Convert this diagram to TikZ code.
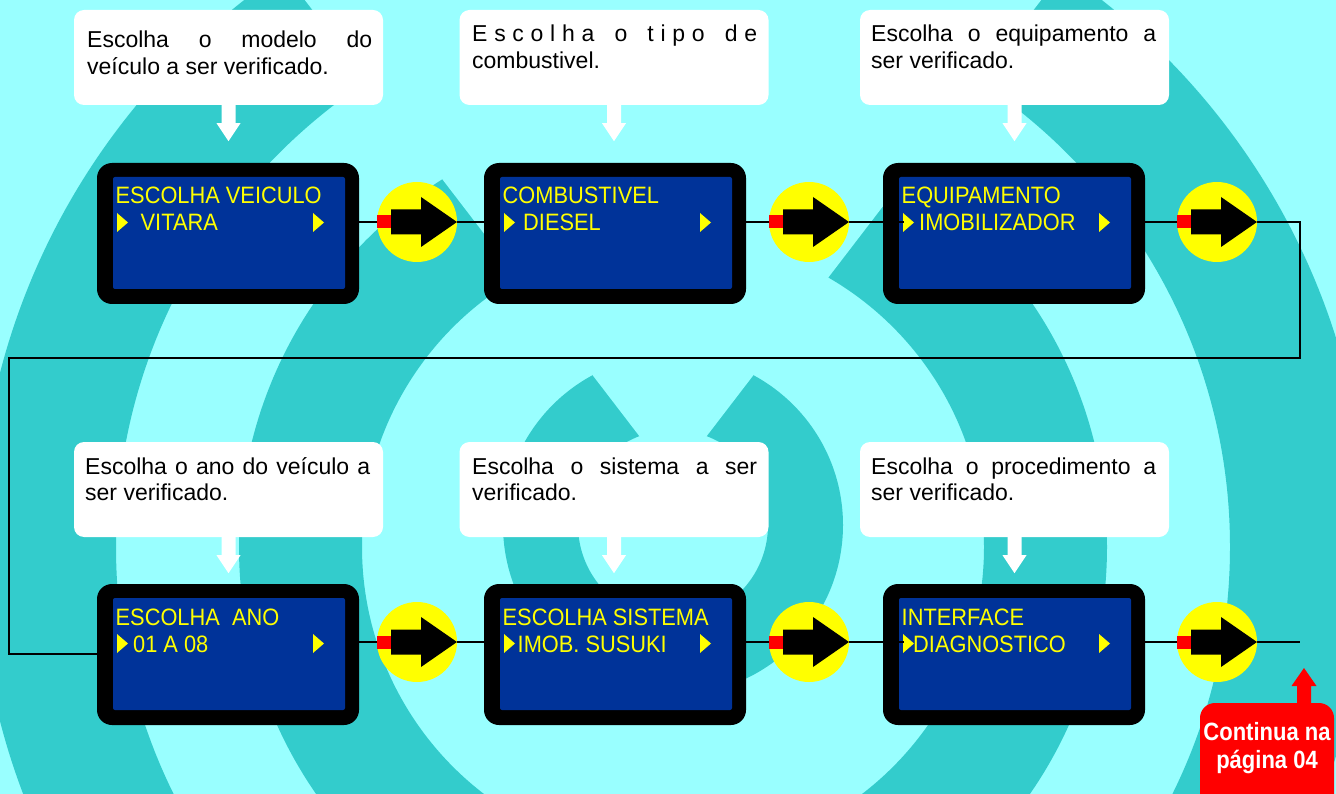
\documentclass[tikz,border=0pt]{standalone}
\usepackage{fontspec}
\setmainfont{Liberation Sans}
\newfontfamily\lcdfam[FakeStretch=0.92]{Liberation Sans}
\newfontfamily\contfam[FakeStretch=0.88]{Liberation Sans}
\usetikzlibrary{calc}
\definecolor{bgc}{HTML}{99FFFF}
\definecolor{ringc}{HTML}{33CCCC}
\definecolor{lcdblue}{HTML}{003399}
\definecolor{lcdyel}{HTML}{FFFF00}
\definecolor{arrred}{HTML}{FF0000}
\newcommand\lcdscreen[6]{%
  \node[screen] (#1) at ({#2+131},{#3+70.5}) {};
  \node[lcd] (#1b) at ({#2+132},{#3+70}) {};
  \node[lcdtext] (#1t) at ({#2+18.5},{#3+41}) {#4};
  \fill[lcdyel] ({#2+20},{#3+50}) -- ({#2+31},{#3+59.5}) -- ({#2+20},{#3+69}) -- cycle;
  \fill[lcdyel] ({#2+216},{#3+50}) -- ({#2+227},{#3+59.5}) -- ({#2+216},{#3+69}) -- cycle;
  \node[lcdtext] (#1u) at ({#2+#5},{#3+68}) {#6};
}
\newcommand\flowcirc[3]{%
  \node[ycirc] (#1) at (#2,#3) {};
  \begin{scope}[shift={(#1)}]
    \fill[arrred] (-40,-6.5) rectangle (-26,6.5);
    \fill[black] (-26,-12.5) -- (4,-12.5) -- (4,-25) -- (40,0) -- (4,25) -- (4,12.5) -- (-26,12.5) -- cycle;
  \end{scope}
}
\newcommand\calldown[1]{%
  \fill[white] ($(#1.south)+(-7,-1)$) -- ($(#1.south)+(7,-1)$) -- ($(#1.south)+(7,18)$)
    -- ($(#1.south)+(12,18)$) -- ($(#1.south)+(0,36)$) -- ($(#1.south)+(-12,18)$)
    -- ($(#1.south)+(-7,18)$) -- cycle;
}
\begin{document}
\begin{tikzpicture}[x=1pt,y=-1pt,
  conn/.style={draw=black,line width=2.6pt},
  screen/.style={rectangle,fill=black,rounded corners=15pt,minimum width=262pt,minimum height=141pt,inner sep=0pt},
  lcd/.style={rectangle,fill=lcdblue,rounded corners=2pt,minimum width=232pt,minimum height=112pt,inner sep=0pt},
  lcdtext/.style={anchor=base west,inner sep=0pt,text=lcdyel,font=\lcdfam\fontsize{23.7}{28}\selectfont},
  callout/.style={rectangle,fill=white,rounded corners=10pt,minimum width=309pt,minimum height=95pt,inner sep=0pt},
  calltext/.style={anchor=base west,inner sep=0pt,text=black,font=\fontsize{23}{26.5}\selectfont},
  ycirc/.style={circle,fill=lcdyel,minimum size=80pt,inner sep=0pt},
  contbox/.style={rectangle,fill=arrred,rounded corners=15pt,minimum width=134pt,minimum height=112pt,inner sep=0pt},
  conttext/.style={anchor=base,inner sep=0pt,text=white,font=\contfam\bfseries\fontsize{25}{28}\selectfont}]
\useasboundingbox (0,0) rectangle (1336,794);
\begin{scope}
\clip (0,0) rectangle (1336,794);
% background rings
\fill[bgc] (0,0) rectangle (1336,794);
\fill[ringc,even odd rule] (673,525) circle (170) (673,525) circle (95);
\fill[ringc,even odd rule] (673,547) circle (434) (673,547) circle (311);
\fill[ringc,even odd rule] (673,547) circle (695) (673,547) circle (557);
\fill[bgc] (673,480) -- (289.5,-20) -- (1056.5,-20) -- cycle;

% callouts row 1
\node[callout] (k1) at (228.5,57.5) {};
\node[callout] (k2) at (614,57.5) {};
\node[callout] (k3) at (1014.5,57.5) {};
\node[calltext] (k1t) at (87,48) {\vtop{\hbox to 285pt{Escolha\hfill o\hfill modelo\hfill do}\hbox{veículo a ser verificado.}}};
\node[calltext] (k2t) at (472,42) {\vtop{\hbox to 285pt{E\hfill s\hfill c\hfill o\hfill l\hfill h\hfill a\hfill\hfill\hfill o\hfill\hfill\hfill t\hfill i\hfill p\hfill o\hfill\hfill\hfill d\hfill e}\hbox{combustivel.}}};
\node[calltext] (k3t) at (871,42) {\vtop{\hbox to 285pt{Escolha\hfill o\hfill equipamento\hfill a}\hbox{ser verificado.}}};
\calldown{k1}\calldown{k2}\calldown{k3}

% callouts row 2
\node[callout] (k4) at (228.5,489.5) {};
\node[callout] (k5) at (614,489.5) {};
\node[callout] (k6) at (1014.5,489.5) {};
\node[calltext] (k4t) at (85,474) {\vtop{\hbox to 285pt{Escolha\hfill o\hfill ano\hfill do\hfill veículo\hfill a}\hbox{ser verificado.}}};
\node[calltext] (k5t) at (472,474) {\vtop{\hbox to 285pt{Escolha\hfill o\hfill sistema\hfill a\hfill ser}\hbox{verificado.}}};
\node[calltext] (k6t) at (871,474) {\vtop{\hbox to 285pt{Escolha\hfill o\hfill procedimento\hfill a}\hbox{ser verificado.}}};
\calldown{k4}\calldown{k5}\calldown{k6}

% screens
\lcdscreen{s1}{97}{163}{ESCOLHA VEICULO}{43.5}{VITARA}
\lcdscreen{s2}{484}{163}{COMBUSTIVEL}{39}{DIESEL}
\lcdscreen{s3}{883}{163}{EQUIPAMENTO}{36}{IMOBILIZADOR}
\lcdscreen{s4}{97}{584}{ESCOLHA\ \ ANO}{36}{01 A 08}
\lcdscreen{s5}{484}{584}{ESCOLHA SISTEMA}{33.5}{IMOB. SUSUKI}
\lcdscreen{s6}{883}{584}{INTERFACE}{30}{DIAGNOSTICO}

% circle positions
\coordinate (p1) at (417,222);
\coordinate (p2) at (809,222);
\coordinate (p3) at (1217,222);
\coordinate (p4) at (417,642);
\coordinate (p5) at (809,642);
\coordinate (p6) at (1217,642);
\coordinate (tr) at (1300,222);
\coordinate (br) at (1300,358);
\coordinate (bl) at (9,358);
\coordinate (ent) at (9,654);
\coordinate (fin) at (1300,642);

% connectors
\draw[conn] (s1.east |- p1) -- (s2.west |- p1);
\draw[conn] (s2.east |- p2) -- ($(s3.west |- p2)+(21,0)$);
\draw[conn] (s3.east |- p3) -- (tr) -- (br) -- (bl) -- (ent) -- (s4.west |- ent);
\draw[conn] (s4.east |- p4) -- (s5.west |- p4);
\draw[conn] (s5.east |- p5) -- ($(s6.west |- p5)+(21,0)$);
\draw[conn] (s6.east |- p6) -- (fin);

% arrow circles
\flowcirc{c1}{417}{222}
\flowcirc{c2}{809}{222}
\flowcirc{c3}{1217}{222}
\flowcirc{c4}{417}{642}
\flowcirc{c5}{809}{642}
\flowcirc{c6}{1217}{642}

% continuation box
\node[contbox] (cont) at (1267,759) {};
\coordinate (ua) at (1304,703);
\fill[arrred] ($(ua)+(-7,2)$) -- ($(ua)+(-7,-17)$) -- ($(ua)+(-12.5,-17)$) -- ($(ua)+(0,-35)$)
  -- ($(ua)+(12.5,-17)$) -- ($(ua)+(7,-17)$) -- ($(ua)+(7,2)$) -- cycle;
\node[conttext] (contt) at (1267,740) {\vtop{\hbox to 0pt{\hss Continua na\hss}\hbox to 0pt{\hss página 04\hss}}};
\end{scope}
\end{tikzpicture}
\end{document}
